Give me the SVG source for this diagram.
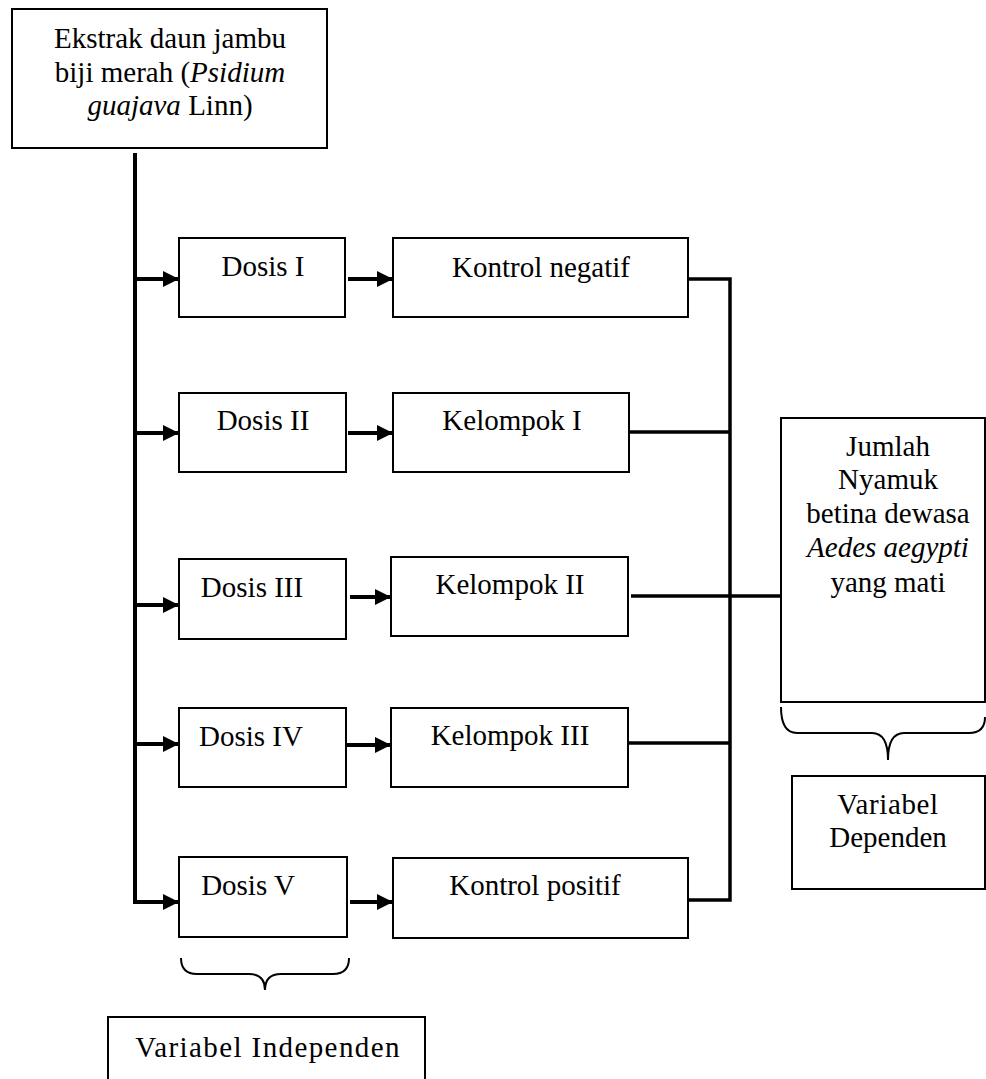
<svg xmlns="http://www.w3.org/2000/svg" width="986" height="1079" viewBox="0 0 986 1079">
<style>
.box{fill:#fff;stroke:#000;stroke-width:2}
.t{font-family:"Liberation Serif","Times New Roman",serif;font-size:29px;fill:#000;text-anchor:middle}
.c{fill:none;stroke:#000;stroke-width:4}
.c3{fill:none;stroke:#000;stroke-width:3.5}
.br{fill:none;stroke:#000;stroke-width:2}
</style>
<defs>
<marker id="ah" markerUnits="userSpaceOnUse" markerWidth="16" markerHeight="16" viewBox="0 0 16 16" refX="16" refY="8" orient="auto">
<path d="M0,0 L16,8 L0,16 Z" fill="#000"/>
</marker>
</defs>
<g id="connectors">
<line class="c" x1="135" y1="153" x2="135" y2="904"/>
<line class="c" x1="133" y1="279" x2="179" y2="279" marker-end="url(#ah)"/>
<line class="c" x1="133" y1="433" x2="179" y2="433" marker-end="url(#ah)"/>
<line class="c" x1="133" y1="605" x2="179" y2="605" marker-end="url(#ah)"/>
<line class="c" x1="133" y1="744" x2="179" y2="744" marker-end="url(#ah)"/>
<line class="c" x1="133" y1="902" x2="179" y2="902" marker-end="url(#ah)"/>
<line class="c" x1="348" y1="279" x2="393" y2="279" marker-end="url(#ah)"/>
<line class="c" x1="348" y1="433" x2="393" y2="433" marker-end="url(#ah)"/>
<line class="c" x1="350" y1="597" x2="391" y2="597" marker-end="url(#ah)"/>
<line class="c" x1="346" y1="745" x2="391" y2="745" marker-end="url(#ah)"/>
<line class="c" x1="350" y1="902" x2="393" y2="902" marker-end="url(#ah)"/>
<polyline class="c3" points="688,279 730,279 730,900 688,900"/>
<line class="c3" x1="629" y1="432" x2="730" y2="432"/>
<line class="c3" x1="631" y1="596" x2="781" y2="596"/>
<line class="c3" x1="628" y1="743" x2="730" y2="743"/>
</g>
<g id="n-ekstrak">
<rect class="box" x="12" y="9" width="315" height="139"/>
<text class="t" x="170" y="48">Ekstrak daun jambu</text>
<text class="t" x="170" y="82">biji merah (<tspan font-style="italic">Psidium</tspan></text>
<text class="t" x="170" y="115"><tspan font-style="italic">guajava</tspan> Linn)</text>
</g>
<g id="n-dosis1">
<rect class="box" x="179" y="238" width="166" height="79"/>
<text class="t" x="263" y="276">Dosis I</text>
</g>
<g id="n-dosis2">
<rect class="box" x="179" y="393" width="167" height="79"/>
<text class="t" x="263" y="430">Dosis II</text>
</g>
<g id="n-dosis3">
<rect class="box" x="179" y="559" width="167" height="80"/>
<text class="t" x="252" y="597">Dosis III</text>
</g>
<g id="n-dosis4">
<rect class="box" x="179" y="708" width="167" height="79"/>
<text class="t" x="251" y="746">Dosis IV</text>
</g>
<g id="n-dosis5">
<rect class="box" x="179" y="857" width="168" height="80"/>
<text class="t" x="248" y="895">Dosis V</text>
</g>
<g id="n-kneg">
<rect class="box" x="393" y="238" width="295" height="79"/>
<text class="t" x="541" y="277">Kontrol negatif</text>
</g>
<g id="n-k1">
<rect class="box" x="393" y="393" width="236" height="79"/>
<text class="t" x="512" y="430">Kelompok I</text>
</g>
<g id="n-k2">
<rect class="box" x="391" y="557" width="237" height="79"/>
<text class="t" x="510" y="594">Kelompok II</text>
</g>
<g id="n-k3">
<rect class="box" x="391" y="708" width="237" height="79"/>
<text class="t" x="510" y="745">Kelompok III</text>
</g>
<g id="n-kpos">
<rect class="box" x="393" y="858" width="295" height="80"/>
<text class="t" x="535" y="895">Kontrol positif</text>
</g>
<g id="n-jumlah">
<rect class="box" x="781" y="418" width="204" height="284"/>
<text class="t" x="888" y="456">Jumlah</text>
<text class="t" x="888" y="489">Nyamuk</text>
<text class="t" x="888" y="523">betina dewasa</text>
<text class="t" x="888" y="557" font-style="italic">Aedes aegypti</text>
<text class="t" x="888" y="592">yang mati</text>
</g>
<g id="brace-independen">
<path class="br" d="M181,958 Q181,974 197,974 L249,974 Q265,974 265,990 Q265,974 281,974 L333,974 Q349,974 349,958"/>
</g>
<g id="n-independen">
<rect class="box" x="108" y="1017" width="317" height="70"/>
<text class="t" x="268" y="1057" letter-spacing="1.4">Variabel Independen</text>
</g>
<g id="brace-dependen">
<path class="br" d="M781,707 Q781,733 797,733 L872,733 Q888,733 888,760 Q888,733 904,733 L969,733 Q985,733 985,717"/>
</g>
<g id="n-dependen">
<rect class="box" x="792" y="776" width="193" height="113"/>
<text class="t" x="888" y="814" letter-spacing="0.6">Variabel</text>
<text class="t" x="888" y="847">Dependen</text>
</g>
</svg>
